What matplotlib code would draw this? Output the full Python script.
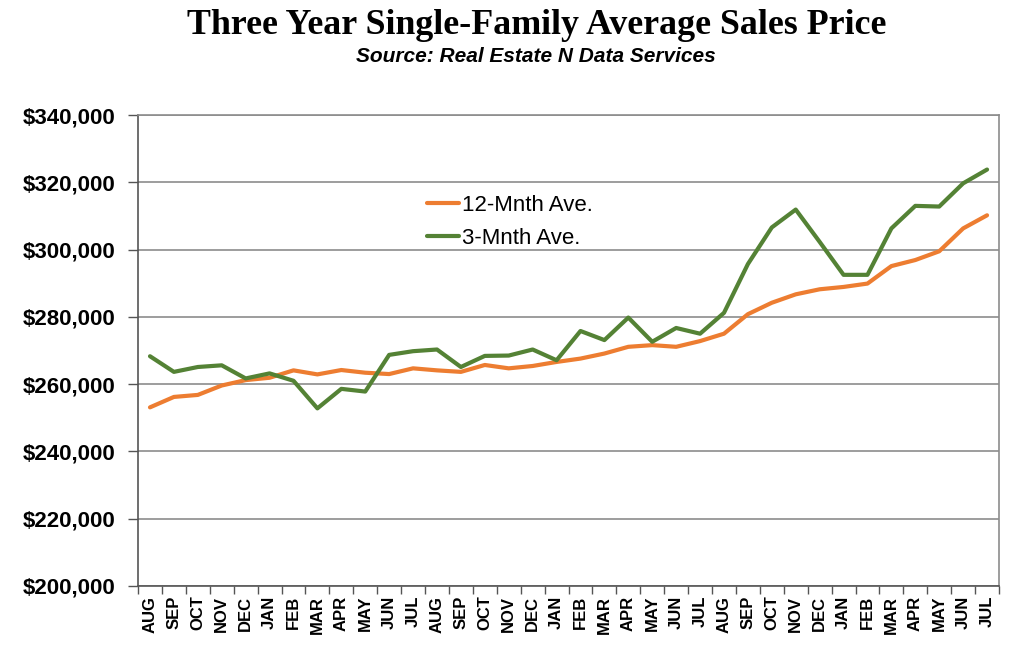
import matplotlib
matplotlib.use("Agg")
import matplotlib.pyplot as plt
from matplotlib.ticker import FuncFormatter, FixedLocator

months = ["AUG", "SEP", "OCT", "NOV", "DEC", "JAN", "FEB", "MAR", "APR", "MAY", "JUN", "JUL"] * 3

avg_12 = [253100, 256200, 256800, 259600, 261200, 261900, 264100, 262900, 264200, 263400, 263000, 264700,
          264100, 263650, 265700, 264700, 265400, 266600, 267600, 269100, 271100, 271600, 271100, 272800,
          275000, 280800, 284200, 286700, 288200, 288900, 289900, 295100, 296900, 299500, 306300, 310200]
avg_3 = [268300, 263650, 265100, 265600, 261700, 263200, 261000, 252800, 258600, 257800, 268700, 269800,
         270300, 265100, 268400, 268500, 270300, 267100, 275800, 273100, 279800, 272600, 276700, 275000,
         281200, 295700, 306600, 311900, 302300, 292500, 292500, 306300, 313000, 312800, 319700, 323800]
series_names = ["12-Mnth Ave.", "3-Mnth Ave."]
series_colors = ["#ED7D31", "#548235"]

fig = plt.figure(figsize=(10.24, 6.5), dpi=100)
ax = fig.add_axes([0.1348, 0.0985, 0.8408, 0.7245])

x = list(range(len(months)))
ax.plot(x, avg_12, color=series_colors[0], lw=3.0, label=series_names[0], solid_capstyle="round")
ax.plot(x, avg_3, color=series_colors[1], lw=3.0, label=series_names[1], solid_capstyle="round")

ax.set_xlim(-0.5, len(months) - 0.5)
ax.set_ylim(200000, 340000)
ax.set_yticks(range(200000, 340001, 20000))
ax.yaxis.set_major_formatter(FuncFormatter(lambda v, p: "${:,.0f}".format(v)))
ax.grid(axis="y", color="#8c8c8c", lw=1.2)
ax.set_axisbelow(True)

ax.set_xticks(x)
ax.set_xticklabels(months, rotation=90, fontsize=12, fontweight="bold", family="Liberation Sans")
ax.tick_params(axis="x", which="major", length=0, pad=7)
ax.xaxis.set_minor_locator(FixedLocator([i - 0.5 for i in range(len(months) + 1)]))
ax.tick_params(axis="x", which="minor", length=6, width=1, color="#555555")
for lab in ax.get_yticklabels():
    lab.set_fontsize(16)
    lab.set_fontweight("bold")
    lab.set_family("Liberation Sans")
ax.tick_params(axis="y", length=7, width=1, color="#555555", pad=9)

for s in ["top", "right"]:
    ax.spines[s].set_color("#8c8c8c")
    ax.spines[s].set_linewidth(1.2)
ax.spines["left"].set_color("#555555")
ax.spines["bottom"].set_color("#555555")
ax.spines["left"].set_linewidth(1.2)
ax.spines["bottom"].set_linewidth(1.2)

leg = ax.legend(loc="upper left", bbox_to_anchor=(418 / 1024, 1 - 186 / 650), bbox_transform=fig.transFigure,
                frameon=False, prop={"family": "Liberation Sans", "size": 16},
                handlelength=1.45, handletextpad=0.15, labelspacing=0.55, borderaxespad=0)

fig.text(0.5245, 1 - 25 / 650, "Three Year Single-Family Average Sales Price", ha="center", va="center",
         family="Liberation Serif", fontweight="bold", fontsize=25.8)
fig.text(0.5235, 1 - 57 / 650, "Source: Real Estate N Data Services", ha="center", va="center",
         family="Liberation Sans", fontweight="bold", style="italic", fontsize=15)

fig.savefig("out.png", dpi=100)
